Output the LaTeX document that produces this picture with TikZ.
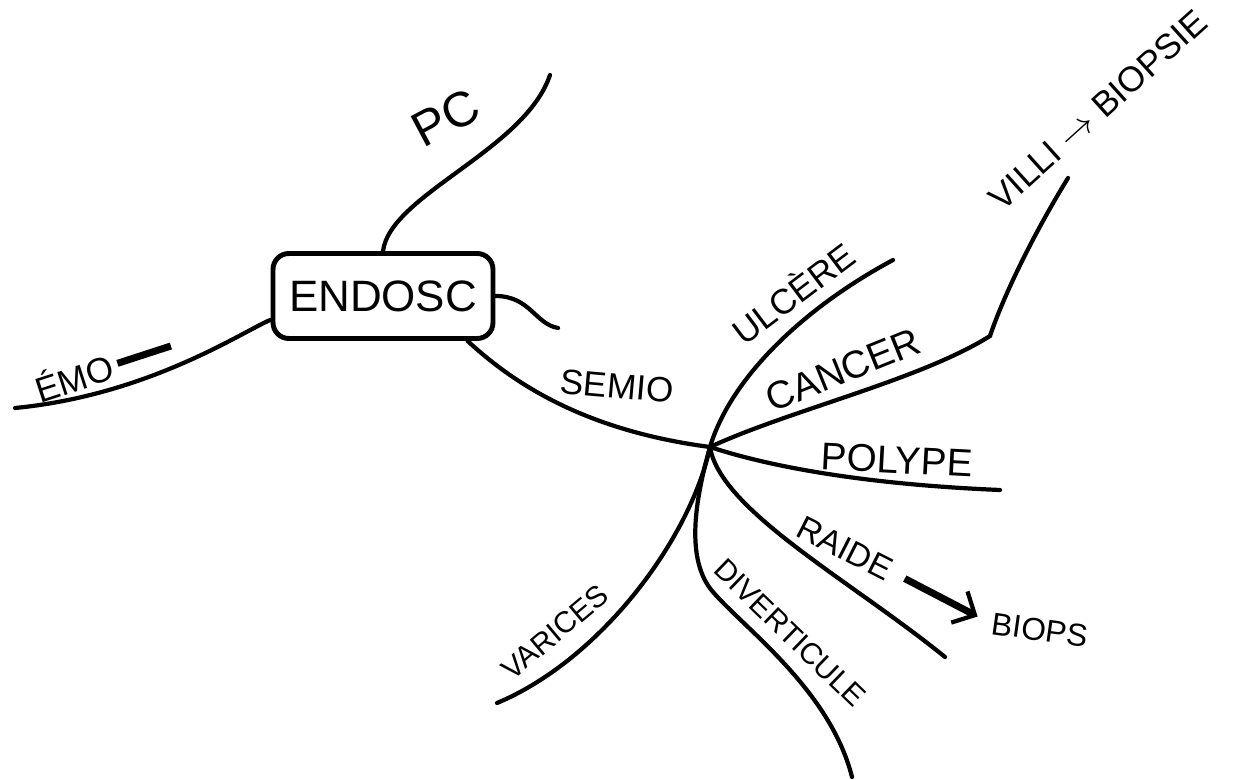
\documentclass[tikz,border=0pt]{standalone}
\usepackage{fontspec}
\setmainfont{Liberation Sans}
\usetikzlibrary{arrows.meta,calc}
\tikzset{
    branch/.style={line width=2.4pt, line cap=round},
    rootbox/.style={rectangle, draw, line width=2.8pt, rounded corners=9pt, minimum width=4.4cm, minimum height=1.7cm, font=\fontsize{25}{30}\selectfont},
    leaf/.style={inner sep=1pt, font=\fontsize{#1}{#1}\selectfont},
    leaf/.default=20,
    bigarrow/.style={line width=4pt, -{Straight Barb[length=10pt, width=20pt, line width=2.4pt]}}
}

\begin{document}
\begin{tikzpicture}[x=0.02cm, y=-0.02cm]
\useasboundingbox (0,0) rectangle (1237,780);

% Root and hub
\node[rootbox] (endosc) at (383,296) {ENDOSC};
\coordinate (hub) at (710,447);

% Branch ends
\coordinate (pcend) at (550,75);
\coordinate (emoend) at (15,408);
\coordinate (stub) at (558,328);
\coordinate (ulcend) at (893,260);
\coordinate (cancend) at (990,336);
\coordinate (villend) at (1068,178);
\coordinate (polend) at (1000,490);
\coordinate (raidend) at (945,657);
\coordinate (divmid) at (713,592);
\coordinate (divend) at (852,777);
\coordinate (varend) at (497,703);

% Branches from the root
\draw[branch] (endosc.north) .. controls (390,195) and (525,150) .. (pcend);
\draw[branch] (endosc.192) .. controls (245,330) and (150,395) .. (emoend);
\draw[branch] (endosc.east) .. controls (530,296) and (535,324) .. (stub);
\draw[branch] (endosc.-28) .. controls (510,380) and (580,430) .. (hub);

% Branches from the hub
\draw[branch] (hub) .. controls (730,380) and (800,310) .. (ulcend);
\draw[branch] (hub) .. controls (790,410) and (920,380) .. (cancend);
\draw[branch] (cancend) .. controls (1002,300) and (1030,240) .. (villend);
\draw[branch] (hub) .. controls (780,470) and (880,485) .. (polend);
\draw[branch] (hub) .. controls (720,510) and (850,580) .. (raidend);
\draw[branch] (hub) .. controls (695,500) and (685,560) .. (divmid) .. controls (745,629) and (830,690) .. (divend);
\draw[branch] (hub) .. controls (690,540) and (600,660) .. (varend);

% Labels
\node[leaf=28, rotate=28] (pc) at (446,118) {PC};
\node[leaf=20, rotate=18] (emo) at (103,367) {ÉMO\,\rule[0.3em]{1.6em}{0.2em}};
\node[leaf=20, rotate=-5] (semio) at (617,386) {SEMIO};
\node[leaf=20, rotate=37] (ulcere) at (792,292) {ULCÈRE};
\node[leaf=22, rotate=22] (cancer) at (843,370) {CANCER};
\node[leaf=20, rotate=42] (villi) at (1098,110) {VILLI $\rightarrow$ BIOPSIE};
\node[leaf=22, rotate=-3] (polype) at (897,460) {POLYPE};
\node[leaf=19, rotate=-27] (raide) at (845,548) {RAIDE};
\node[leaf=18, rotate=-8] (biops) at (1040,630) {BIOPS};
\node[leaf=17, rotate=-44] (divert) at (790,633) {DIVERTICULE};
\node[leaf=17, rotate=40] (varices) at (555,632) {VARICES};

\draw[bigarrow, shorten <=8pt, shorten >=8pt] (raide.east) -- (biops.west);

\end{tikzpicture}
\end{document}
